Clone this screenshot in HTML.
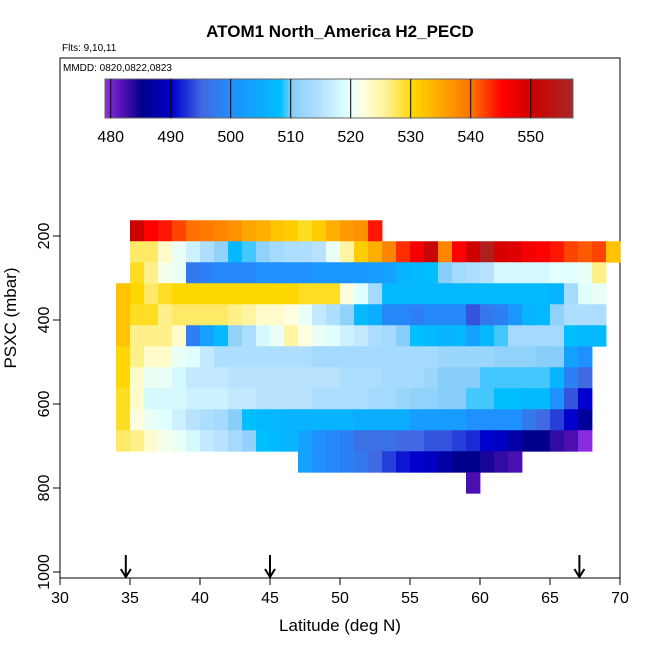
<!DOCTYPE html>
<html><head><meta charset="utf-8"><style>
body{margin:0;background:#fff;font-family:"Liberation Sans",sans-serif}
svg text{font-family:"Liberation Sans",sans-serif}
</style></head><body>
<svg id="c" width="650" height="650" viewBox="0 0 650 650">
<text x="340" y="37" text-anchor="middle" font-size="17" font-weight="bold">ATOM1 North_America H2_PECD</text>
<text x="62" y="51" font-size="10">Flts: 9,10,11</text>
<rect x="60" y="58" width="560" height="520" fill="none" stroke="#000"/>
<text x="63" y="71" font-size="10">MMDD: 0820,0822,0823</text>
<g id="cells"></g>
<g id="cbar"></g>
<g id="axes"></g>
<text x="340" y="631" text-anchor="middle" font-size="17">Latitude (deg N)</text>
<text transform="translate(16,318) rotate(-90)" text-anchor="middle" font-size="17">PSXC (mbar)</text>
</svg>
<script>
const levels=[187.5,237.5,287.5,337.5,387.5,437.5,487.5,537.5,587.5,637.5,687.5,737.5,787.5];
const rowStart=[35,35,35,34,34,34,34,34,34,34,34,47,59];
const row0=[550,545,544,542,540,539,538,537,535,534,532,531,529,531,534,536,537,544];
const row1=[527,527,523,520,517,514,511,507,509,511,513,514,514,515,520,525,531,534,538,543,546,551,538,545,550,555,549,548,546,545,544,542,541,542,532];
const row2=[529,526,521,520,497,498,499,499,499,500,500,500,500,501,501,501,501,502,503,506,507,508,510,513,514,515,518,518,518,518,519,519,520,526];
const row3=[532,530,527,529,530,530,530,530,530,530,530,530,530,529,529,529,522,519,513,507,507,507,507,507,507,507,507,507,507,507,507,506,513,519,520];
const row4=[532,529,529,526,527,527,527,527,526,525,523,523,522,520,516,514,511,507,505,499,499,498,499,499,499,494,497,498,501,506,507,511,514,514,514];
const row5=[532,526,526,526,523,498,503,507,511,514,518,520,525,522,520,519,517,516,514,513,510,508,507,506,507,503,507,509,513,513,513,513,508,507,507];
const row6=[530,526,523,523,520,519,516,514,514,514,514,514,514,514,513,513,513,513,513,513,513,513,513,512,512,512,512,511,511,511,510,510,503,500];
const row7=[530,523,520,520,518,516,516,516,515,515,515,515,515,515,515,515,514,514,514,513,513,513,512,510,510,510,509,509,509,509,509,506,498,495];
const row8=[529,523,518,518,518,517,517,517,516,516,515,515,515,515,514,514,514,514,513,513,512,511,511,510,510,509,509,508,508,507,507,500,494,490];
const row9=[529,522,520,519,517,515,514,513,510,508,507,507,506,506,506,506,506,505,505,505,505,502,502,502,502,500,500,500,500,497,495,493,490,486];
const row10=[527,526,523,521,520,518,516,515,513,511,508,507,506,503,500,499,498,496,496,496,495,495,494,494,493,492,490,489,487,485,485,483,482,479];
const row11=[503,500,499,498,497,495,493,491,490,489,487,485,485,484,483,482];
const row12=[482];
const rows=[row0,row1,row2,row3,row4,row5,row6,row7,row8,row9,row10,row11,row12];
const xTicks=[30,35,40,45,50,55,60,65,70];
const yTicks=[200,400,600,800,1000];
const cbTicks=[480,490,500,510,520,530,540,550];
const arrowLats=[34.7,45,67.1];

const NS='http://www.w3.org/2000/svg';
const xS=lat=>60+(lat-30)*14;
const yS=p=>236+(p-200)*0.42;
const cbS=v=>110.7+(v-480)*6;
const stops=[[479,'#8a2be2'],[482,'#4b0fb0'],[485,'#00008b'],[490,'#0000cd'],[495,'#4169e1'],[500,'#1e90ff'],[508,'#00bfff'],[510,'#87cefa'],[515,'#b8e2ff'],[519,'#e0ffff'],[522,'#ffffe0'],[526,'#fff08a'],[530,'#ffd700'],[535,'#ffa500'],[540,'#ff7000'],[545,'#ff0000'],[550,'#cd0000'],[557,'#a52a2a']];
function hx(h){return [1,3,5].map(i=>parseInt(h.substr(i,2),16));}
function col(v){
  if(v<=stops[0][0])return stops[0][1];
  for(let i=1;i<stops.length;i++){if(v<=stops[i][0]){const a=hx(stops[i-1][1]),b=hx(stops[i][1]);const t=(v-stops[i-1][0])/(stops[i][0]-stops[i-1][0]);return 'rgb('+a.map((x,j)=>Math.round(x+(b[j]-x)*t)).join(',')+')';}}
  return stops[stops.length-1][1];
}
function mk(tag,at,parent){const e=document.createElementNS(NS,tag);for(const k in at)e.setAttribute(k,at[k]);parent.appendChild(e);return e;}
const cells=document.getElementById('cells');
rows.forEach((r,i)=>{r.forEach((v,j)=>{const lat=rowStart[i]+j;const y0=yS(levels[i]-25),y1=yS(levels[i]+25);
  const e=mk('rect',{x:xS(lat),y:y0,width:14.4,height:y1-y0+0.4,fill:col(v)},cells);
  
  });});
const cb=document.getElementById('cbar');
for(let v=479;v<557;v+=0.5){const e=mk('rect',{x:cbS(v),y:79,width:3.4,height:39,fill:col(v)},cb);
  
  }
mk('rect',{x:105,y:79,width:468,height:39,fill:'none',stroke:'#666'},cb);
cbTicks.forEach(t=>{const l=mk('line',{x1:cbS(t),x2:cbS(t),y1:79,y2:118,stroke:'#000'},cb);
  
  
  const tx=mk('text',{x:cbS(t),y:142,'text-anchor':'middle','font-size':'16'},cb);tx.textContent=t;
  
  });
const ax=document.getElementById('axes');
xTicks.forEach(t=>{const l=mk('line',{x1:xS(t),x2:xS(t),y1:578,y2:585,stroke:'#000'},ax);
  
  
  const tx=mk('text',{x:xS(t),y:603,'text-anchor':'middle','font-size':'16'},ax);tx.textContent=t;
  
  });
yTicks.forEach(t=>{const l=mk('line',{x1:53,x2:60,y1:yS(t),y2:yS(t),stroke:'#000'},ax);
  
  
  const tx=mk('text',{transform:'translate(49,'+yS(t)+') rotate(-90)','text-anchor':'middle','font-size':'16'},ax);tx.textContent=t;
  
  });
arrowLats.forEach(a=>{const g=mk('g',{stroke:'#000','stroke-width':2,fill:'none'},ax);
  
  
  mk('line',{x1:xS(a),x2:xS(a),y1:555,y2:577},g);
  mk('polyline',{points:(xS(a)-5)+',569 '+xS(a)+',577 '+(xS(a)+5)+',569'},g);});
</script>
</body></html>
